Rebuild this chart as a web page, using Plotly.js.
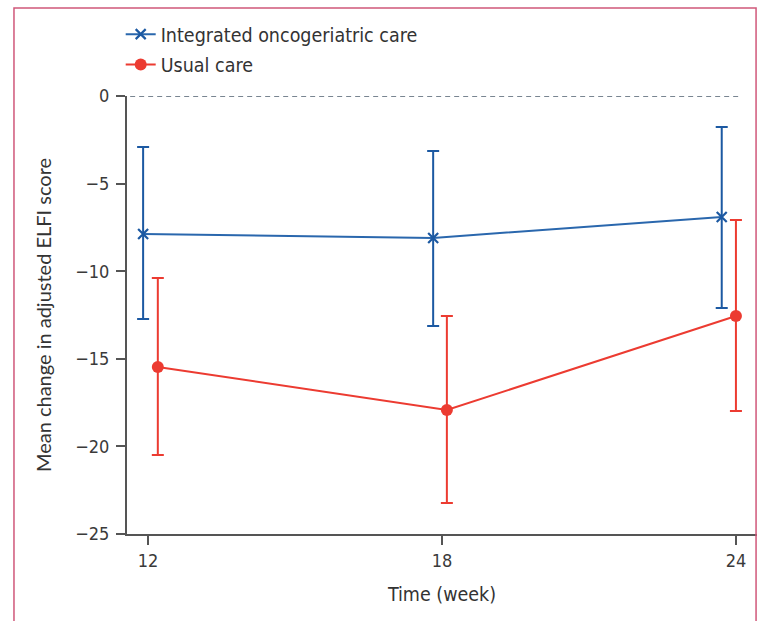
<!DOCTYPE html>
<html>
<head>
<meta charset="utf-8">
<script src="https://cdn.plot.ly/plotly-3.0.1.min.js"></script>
<style>
html,body{margin:0;padding:0;background:#fff;}
#chart{width:761px;height:621px;}
</style>
</head>
<body>
<div id="chart"></div>
<script>
// Data
const seriesNames = ["Integrated oncogeriatric care", "Usual care"];
const weeks = [12, 18, 24];
const tickLabels = ["12", "18", "24"];
// plotted x positions (points are dodged slightly around the weeks)
const integratedX = [11.9, 17.82, 23.71];
const usualX = [12.2, 18.1, 24.0];
const integratedMean = [-7.88, -8.10, -6.91];
const integratedUpper = [-2.91, -3.14, -1.77];
const integratedLower = [-12.73, -13.13, -12.10];
const usualMean = [-15.47, -17.92, -12.56];
const usualUpper = [-10.39, -12.56, -7.08];
const usualLower = [-20.49, -23.23, -17.98];
const yTicks = [0, -5, -10, -15, -20, -25];

const blue = "#2a67ad";
const blueDark = "#1c59a2";
const red = "#ec3b31";
const condensed = "DejaVu Sans Condensed, Liberation Sans Narrow, sans-serif";
const tickFont = {family: condensed, size: 18, color: "#3a3a3a"};

const plus = (m, u) => m.map((v, i) => u[i] - v);
const minus = (m, l) => m.map((v, i) => v - l[i]);

const traces = [
  {
    name: seriesNames[0], x: integratedX, y: integratedMean, type: "scatter", mode: "lines+markers",
    line: {color: blue, width: 2},
    marker: {symbol: "x-thin", size: 10, color: blueDark, line: {color: blueDark, width: 2.2}},
    error_y: {type: "data", symmetric: false, array: plus(integratedMean, integratedUpper),
              arrayminus: minus(integratedMean, integratedLower), color: blueDark, thickness: 2, width: 6},
    legendgroup: "a"
  },
  {
    name: seriesNames[1], x: usualX, y: usualMean, type: "scatter", mode: "lines+markers",
    line: {color: red, width: 2},
    marker: {symbol: "circle", size: 12, color: red},
    error_y: {type: "data", symmetric: false, array: plus(usualMean, usualUpper),
              arrayminus: minus(usualMean, usualLower), color: red, thickness: 2, width: 6},
    legendgroup: "b"
  }
];

const layout = {
  width: 761, height: 621,
  margin: {l: 127, r: 4, t: 96, b: 87},
  paper_bgcolor: "#fff", plot_bgcolor: "#fff",
  showlegend: true,
  legend: {x: -0.01, xanchor: "left", y: 1.185, yanchor: "top", bgcolor: "rgba(0,0,0,0)",
           font: {family: condensed, size: 19.5, color: "#333"},
           tracegroupgap: 2, itemwidth: 30},
  xaxis: {
    range: [11.571, 24.43], tickmode: "array", tickvals: weeks, ticktext: tickLabels,
    showgrid: false, zeroline: false, showline: true, linecolor: "#555", linewidth: 2,
    ticks: "outside", ticklen: 9, tickwidth: 2, tickcolor: "#555", tickfont: tickFont,
    title: {text: "Time (week)", font: {family: condensed, size: 19.5, color: "#333"}, standoff: 18}
  },
  yaxis: {
    range: [-25, 0], tickmode: "array", tickvals: yTicks,
    showgrid: false, zeroline: false, showline: true, linecolor: "#555", linewidth: 2,
    ticks: "outside", ticklen: 9, tickwidth: 2, tickcolor: "#555", tickfont: tickFont,
    ticklabelstandoff: 3,
    title: {text: "Mean change in adjusted ELFI score", font: {family: "Lato, Open Sans, sans-serif", size: 20, color: "#333"}, standoff: 18}
  },
  shapes: [
    {type: "line", xref: "paper", yref: "y", x0: 0.005, x1: 0.975, y0: 0, y1: 0,
     line: {color: "#4d5e6e", width: 1.3, dash: "5px,4px"}},
    {type: "path", xref: "paper", yref: "paper",
     path: "M -0.1794,-0.1986 L -0.1794,1.2009 L 0.9985,1.2009 L 0.9985,-0.1986",
     line: {color: "#d0587a", width: 1.5}}
  ]
};

Plotly.newPlot("chart", traces, layout, {displayModeBar: false, staticPlot: true});
</script>
</body>
</html>
